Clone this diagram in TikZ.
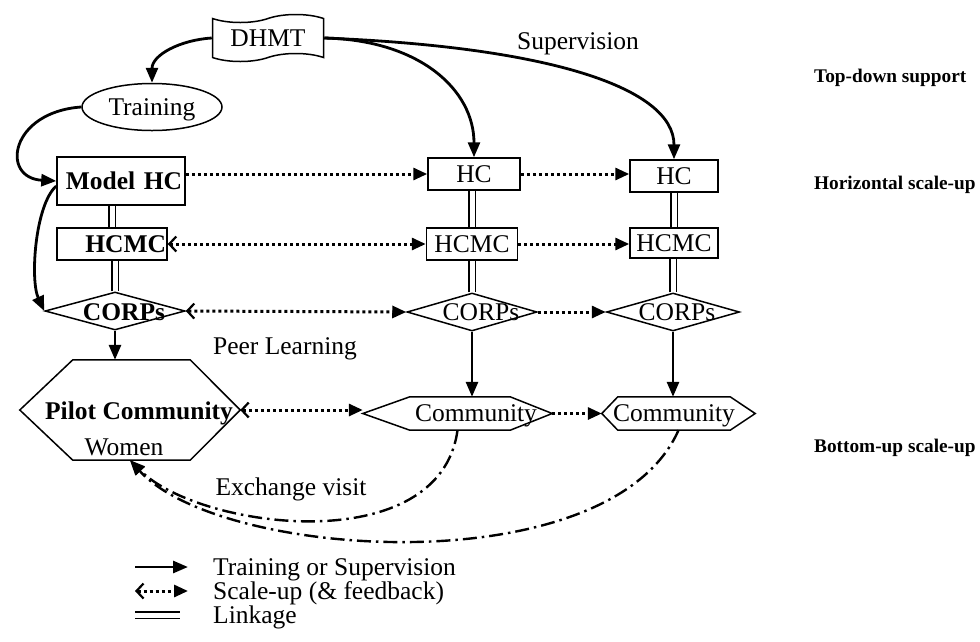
\documentclass[tikz,border=0pt]{standalone}
\usepackage{fontspec}
\setmainfont{Liberation Serif}
\usetikzlibrary{arrows.meta,shapes.geometric,shapes.symbols,calc}

\newcommand\diagfont{\fontsize{25.5pt}{28pt}\selectfont}
\newcommand\sidefont{\fontsize{19.3pt}{22pt}\selectfont\bfseries}

% hexagon outline drawn round a frame node: #2 = left slant, #3 = right slant
\newcommand\hexoutline[3]{%
  \draw[outline] (#1.west) -- ($(#1.north west)+(#2,0)$) -- ($(#1.north east)+(-#3,0)$)
    -- (#1.east) -- ($(#1.south east)+(-#3,0)$) -- ($(#1.south west)+(#2,0)$) -- cycle;}

\tikzset{
  outline/.style={draw, line width=1.5pt, line join=miter},
  box/.style={outline, rectangle, inner sep=0pt, text depth=0pt, font=\diagfont},
  frame/.style={rectangle, inner sep=0pt},
  diam/.style={outline, diamond, inner sep=0pt},
  txt/.style={inner sep=0pt, text depth=0pt, font=\diagfont},
  sidetxt/.style={inner sep=0pt, text depth=0pt, font=\sidefont, anchor=west},
  trainarrow/.style={line width=2.8pt, -{Triangle[length=15pt,width=12pt]}},
  scaleone/.style={line width=3pt, dash pattern=on 3pt off 3pt,
    -{Triangle[length=14pt,width=12pt]}},
  scaletwo/.style={line width=3pt, dash pattern=on 3pt off 3pt,
    {Straight Barb[length=7pt,width=15pt,line width=2.2pt]}-{Triangle[length=14pt,width=12pt]}},
  link/.style={double distance=5pt, line width=1.6pt},
  exchange/.style={line width=2.4pt, dash pattern=on 14pt off 5pt on 2.5pt off 5pt,
    -{Triangle[length=15pt,width=12pt]}},
}

\begin{document}
\begin{tikzpicture}[x=1pt,y=-1pt]
\useasboundingbox (0,0) rectangle (980,641);

% ---- nodes of the scheme ----
\node[outline, tape, tape bend height=8pt, minimum width=111pt, minimum height=47pt,
      inner sep=0pt, text depth=0pt, font=\diagfont] (dhmt) at (268,38) {DHMT};
\node[outline, ellipse, minimum width=140pt, minimum height=47pt, inner sep=0pt,
      text depth=0pt, font=\diagfont] (train) at (152,107) {Training};

\node[box, minimum width=128pt, minimum height=48pt, text width=122pt, align=right,
      font=\diagfont\bfseries] (mhc) at (121,181) {Model HC};
\node[box, minimum width=92pt, minimum height=32pt] (hc2) at (474,174) {HC};
\node[box, minimum width=88pt, minimum height=32pt] (hc3) at (674,176) {HC};

\node[box, minimum width=110pt, minimum height=32pt, text width=108pt, align=right,
      font=\diagfont\bfseries] (hcmc1) at (112,244) {HCMC};
\node[box, minimum width=91pt, minimum height=32pt] (hcmc2) at (472,244) {HCMC};
\node[box, minimum width=88pt, minimum height=30pt] (hcmc3) at (674,243) {HCMC};

\node[diam, minimum width=140pt, minimum height=38pt] (corps1) at (115,311) {};
\node[diam, minimum width=130pt, minimum height=38pt] (corps2) at (472,312) {};
\node[diam, minimum width=133pt, minimum height=38pt] (corps3) at (673,312) {};
\node[txt, font=\diagfont\bfseries] (corps1t) at (124,312) {CORPs};
\node[txt] (corps2t) at (481,312) {CORPs};
\node[txt] (corps3t) at (677,312) {CORPs};

\node[frame, minimum width=220pt, minimum height=100pt] (pilot) at (130,410) {};
\hexoutline{pilot}{53}{50}
\node[txt, font=\diagfont\bfseries] (pilott) at (139,411) {Pilot Community};
\node[txt] (pilotw) at (124,447) {Women};

\node[frame, minimum width=189pt, minimum height=33pt] (comm2) at (457.5,413.5) {};
\hexoutline{comm2}{47}{42}
\node[txt] (comm2t) at (476,413) {Community};
\node[frame, minimum width=153pt, minimum height=33pt] (comm3) at (678.5,413.5) {};
\hexoutline{comm3}{16}{25}
\node[txt] (comm3t) at (674,413) {Community};

% ---- labels ----
\node[txt] (supl) at (578,41) {Supervision};
\node[txt] (peer) at (285,346) {Peer Learning};
\node[txt] (exch) at (291,487) {Exchange visit};
\node[sidetxt] (lbltop) at (814,76) {Top-down support};
\node[sidetxt] (lblhor) at (814,183) {Horizontal scale-up};
\node[sidetxt] (lblbot) at (814,446) {Bottom-up scale-up};

% ---- training and supervision ----
\draw[trainarrow] (dhmt.west) .. controls (180,40) and (152,55) .. (train.north);
\draw[trainarrow] (dhmt.east) .. controls (420,40) and (474,90) .. (hc2.north);
\draw[trainarrow] (dhmt.east) .. controls (550,47) and (674,88) .. (hc3.north);
\draw[trainarrow] (train.west) .. controls (10,112) and (0,178) .. (mhc.west);
\draw[trainarrow] ($(mhc.west)+(0,5)$) .. controls (35,205) and (30,280) .. (corps1.west);
\draw[trainarrow] (corps1.south) -- (corps1.south |- pilot.north);
\draw[trainarrow] (corps2.south) -- (corps2.south |- comm2.north);
\draw[trainarrow] (corps3.south) -- (corps3.south |- comm3.north);

% ---- linkages ----
\draw[link] (hcmc1.north) -- (hcmc1.north |- mhc.south);
\draw[link] (corps1.north) -- (corps1.north |- hcmc1.south);
\draw[link] (hcmc2.north) -- (hcmc2.north |- hc2.south);
\draw[link] (corps2.north) -- (corps2.north |- hcmc2.south);
\draw[link] (hcmc3.north) -- (hcmc3.north |- hc3.south);
\draw[link] (corps3.north) -- (corps3.north |- hcmc3.south);

% ---- horizontal scale-up ----
\draw[scaleone] (mhc.east |- hc2.west) -- (hc2.west);
\draw[scaleone] (hc2.east) -- (hc2.east -| hc3.west);
\draw[scaletwo] (hcmc1.east) -- (hcmc2.west);
\draw[scaleone] (hcmc2.east) -- (hcmc2.east -| hcmc3.west);
\draw[scaletwo] (corps1.east) -- (corps2.west);
\draw[scaleone] (corps2.east) -- (corps2.east -| corps3.west);
\draw[scaletwo] (pilot.east) -- (pilot.east -| comm2.west);
\draw[scaleone] (comm2.east) -- (comm2.east -| comm3.west);

% ---- exchange visits ----
\draw[exchange] (comm2.south) .. controls (440,560) and (200,530) .. (pilot.south);
\draw[exchange] (comm3.south) .. controls (610,585) and (220,560) .. (pilot.south);

% ---- legend ----
\coordinate (lg1a) at (135,567); \coordinate (lg1b) at (188,567);
\coordinate (lg2a) at (135,591); \coordinate (lg2b) at (188,591);
\coordinate (lg3a) at (135,615); \coordinate (lg3b) at (180,615);
\draw[trainarrow] (lg1a) -- (lg1b);
\draw[scaletwo] (lg2a) -- (lg2b);
\draw[link] (lg3a) -- (lg3b);
\node[txt, anchor=west] (lgt1) at (213,567) {Training or Supervision};
\node[txt, anchor=west] (lgt2) at (213,591) {Scale-up (\& feedback)};
\node[txt, anchor=west] (lgt3) at (213,615) {Linkage};
\end{tikzpicture}
\end{document}
